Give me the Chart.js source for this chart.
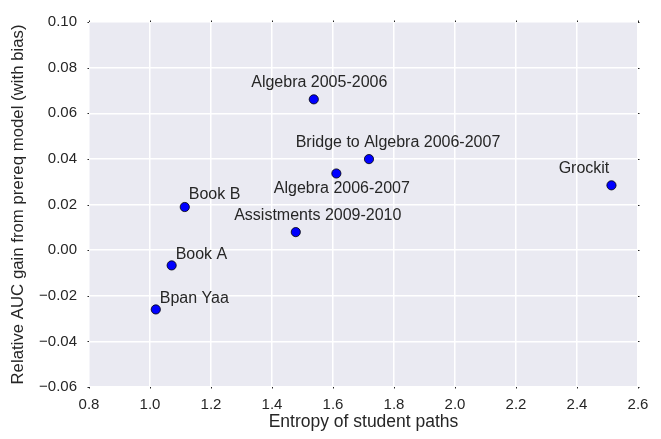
<!DOCTYPE html>
<html><head><meta charset="utf-8">
<style>html,body{margin:0;padding:0;background:#fff;}canvas{display:block;}</style>
<script src="https://cdn.jsdelivr.net/npm/chart.js@4/dist/chart.umd.min.js"></script>
</head><body>
<canvas id="c" width="661" height="439"></canvas>
<script>
const datasetNames = ["Bpan Yaa","Book A","Book B","Assistments 2009-2010","Algebra 2005-2006","Algebra 2006-2007","Bridge to Algebra 2006-2007","Grockit"];
const entropy = [1.019, 1.071, 1.114, 1.478, 1.537, 1.611, 1.718, 2.513];
const aucGain = [-0.026, -0.0067, 0.0189, 0.0079, 0.0661, 0.0336, 0.0399, 0.0284];
const xTicks = [0.8,1.0,1.2,1.4,1.6,1.8,2.0,2.2,2.4,2.6];
const yTicks = [-0.06,-0.04,-0.02,0.00,0.02,0.04,0.06,0.08,0.10];
// label placement (pixel offsets from point, alignment)
const labelPlace = [
  {dx:4, dy:-11, align:'left'},
  {dx:4, dy:-11, align:'left'},
  {dx:4, dy:-12, align:'left'},
  {dx:22, dy:-17, align:'center'},
  {dx:5.5, dy:-17, align:'center'},
  {dx:5.5, dy:15, align:'center'},
  {dx:29, dy:-17, align:'center'},
  {dx:-27.5, dy:-17, align:'center'}
];
const TXT = '#262626';
const FONT = '"Liberation Sans", Arial, sans-serif';

const bgPlugin = {
  id:'bg',
  beforeDraw(chart){
    const {ctx, chartArea:a} = chart;
    ctx.save(); ctx.fillStyle='#EAEAF2';
    ctx.fillRect(a.left,a.top,a.right-a.left,a.bottom-a.top); ctx.restore();
  },
  afterDraw(chart){
    const {ctx, chartArea:a, scales} = chart;
    ctx.save();
    ctx.strokeStyle='#262626'; ctx.lineWidth=1;
    scales.y.ticks.forEach(t=>{
      const y=Math.round(scales.y.getPixelForValue(t.value))+0.5;
      ctx.beginPath(); ctx.moveTo(a.left-1.5,y); ctx.lineTo(a.left,y); ctx.stroke();
      ctx.beginPath(); ctx.moveTo(a.right,y); ctx.lineTo(a.right+1.5,y); ctx.stroke();
    });
    scales.x.ticks.forEach(t=>{
      const x=Math.round(scales.x.getPixelForValue(t.value))+0.5;
      ctx.beginPath(); ctx.moveTo(x,a.bottom); ctx.lineTo(x,a.bottom+1.5); ctx.stroke();
      ctx.beginPath(); ctx.moveTo(x,a.top-1.5); ctx.lineTo(x,a.top); ctx.stroke();
    });
    // annotations
    ctx.fillStyle=TXT; ctx.font='16px '+FONT; ctx.textBaseline='middle';
    const meta = chart.getDatasetMeta(0);
    meta.data.forEach((pt,i)=>{
      const p = labelPlace[i];
      ctx.textAlign=p.align;
      ctx.fillText(datasetNames[i], pt.x+p.dx, pt.y+p.dy);
    });
    ctx.restore();
  }
};

function fmt(v, d){ const s=Math.abs(v).toFixed(d); return (v< -1e-9?'\u2212':'')+s; }

new Chart(document.getElementById('c'),{
  type:'scatter',
  data:{datasets:[{
    data: entropy.map((x,i)=>({x:x,y:aucGain[i]})),
    backgroundColor:'#0000FF', borderColor:'#000', borderWidth:0.8,
    pointRadius:4.6, pointHoverRadius:4.6
  }]},
  options:{
    responsive:false, animation:false,
    layout:{padding:{left:0,top:22,right:23,bottom:0}},
    plugins:{legend:{display:false},tooltip:{enabled:false}},
    scales:{
      x:{
        type:'linear', min:0.8, max:2.6,
        afterBuildTicks(s){ s.ticks = xTicks.map(v=>({value:v})); },
        afterFit(s){ s.height = 52; },
        grid:{color:'#fff', lineWidth:1.5, drawTicks:false},
        border:{display:false},
        ticks:{color:TXT, font:{family:FONT,size:15}, padding:9, maxRotation:0,
          callback:(v)=>fmt(v,1)},
        title:{display:true, text:'Entropy of student paths', color:TXT,
          font:{family:FONT,size:17.5}, padding:{top:0,bottom:6}}
      },
      y:{
        type:'linear', min:-0.06, max:0.10,
        afterBuildTicks(s){ s.ticks = yTicks.map(v=>({value:v})); },
        afterFit(s){ s.width = 89; },
        grid:{color:'#fff', lineWidth:1.5, drawTicks:false},
        border:{display:false},
        ticks:{color:TXT, font:{family:FONT,size:15}, padding:12,
          callback:(v)=>fmt(v,2)},
        title:{display:true, text:'Relative AUC gain from prereq model (with bias)', color:TXT,
          font:{family:FONT,size:16.8}, padding:{top:8,bottom:0}}
      }
    }
  },
  plugins:[bgPlugin]
});
</script>
</body></html>
